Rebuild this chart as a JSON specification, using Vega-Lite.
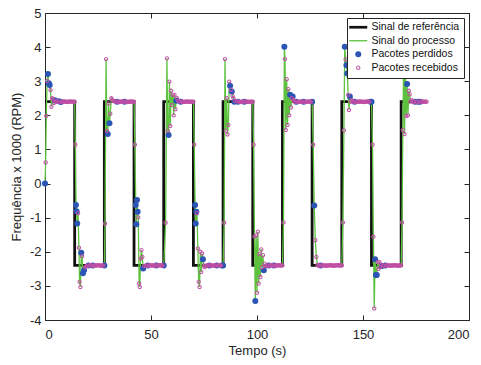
{
  "$schema": "https://vega.github.io/schema/vega-lite/v6.json",
  "width": 424,
  "height": 307,
  "autosize": {"type": "none"},
  "padding": {"left": 45, "top": 13, "right": 12, "bottom": 45},
  "background": "white",
  "config": {
    "font": "Liberation Sans",
    "view": {"stroke": "#262626", "strokeWidth": 1}
  },
  "datasets": {
    "ref": [
      {"t": 0, "r": 2.4}, {"t": 14, "r": -2.4}, {"t": 28, "r": 2.4}, {"t": 42, "r": -2.4},
      {"t": 56, "r": 2.4}, {"t": 70, "r": -2.4}, {"t": 84, "r": 2.4}, {"t": 98, "r": -2.4},
      {"t": 112, "r": 2.4}, {"t": 126, "r": -2.4}, {"t": 140, "r": 2.4}, {"t": 154, "r": -2.4},
      {"t": 168, "r": 2.4}, {"t": 180, "r": 2.4}
    ],
    "pts": [
      {"t":0,"v":0,"k":"c"},{"t":0.3,"v":0.62,"k":"d"},{"t":0.6,"v":1.98,"k":"d"},{"t":1.0,"v":3.01,"k":"d"},{"t":1.4,"v":3.21,"k":"c"},{"t":1.8,"v":2.94,"k":"c"},{"t":2.2,"v":2.89,"k":"c"},{"t":2.6,"v":2.74,"k":"d"},{"t":3.0,"v":2.25,"k":"d"},{"t":3.4,"v":2.5,"k":"d"},{"t":3.8,"v":2.47,"k":"d"},{"t":4.2,"v":2.36,"k":"d"},{"t":4.6,"v":2.44,"k":"c"},{"t":5.0,"v":2.4,"k":"d"},
      {"t":5.5,"v":2.42,"k":"d"},{"t":6.0,"v":2.4,"k":"d"},{"t":6.5,"v":2.41,"k":"c"},{"t":7.0,"v":2.4,"k":"d"},{"t":7.5,"v":2.39,"k":"c"},{"t":8.0,"v":2.4,"k":"d"},{"t":8.5,"v":2.4,"k":"d"},{"t":9.0,"v":2.41,"k":"d"},{"t":9.5,"v":2.4,"k":"d"},{"t":10.0,"v":2.4,"k":"d"},{"t":10.5,"v":2.39,"k":"d"},{"t":11.0,"v":2.4,"k":"d"},{"t":11.5,"v":2.4,"k":"d"},{"t":12.0,"v":2.41,"k":"d"},{"t":12.5,"v":2.4,"k":"d"},{"t":13.0,"v":2.4,"k":"d"},{"t":13.5,"v":2.4,"k":"d"},{"t":14.0,"v":2.4,"k":"d"},
      {"t":14.3,"v":1.14,"k":"d"},{"t":14.6,"v":-0.63,"k":"c"},{"t":14.9,"v":-0.81,"k":"c"},{"t":15.2,"v":-1.17,"k":"c"},{"t":15.6,"v":-0.87,"k":"d"},{"t":16.0,"v":-1.88,"k":"d"},{"t":16.3,"v":-2.88,"k":"d"},{"t":16.7,"v":-3.03,"k":"d"},{"t":17.1,"v":-2.03,"k":"c"},{"t":17.5,"v":-2.13,"k":"d"},{"t":17.9,"v":-2.63,"k":"c"},{"t":18.4,"v":-2.54,"k":"c"},{"t":18.9,"v":-2.45,"k":"d"},{"t":19.4,"v":-2.42,"k":"d"},
      {"t":20.0,"v":-2.41,"k":"d"},{"t":20.5,"v":-2.4,"k":"c"},{"t":21.0,"v":-2.4,"k":"d"},{"t":21.5,"v":-2.39,"k":"d"},{"t":22.0,"v":-2.4,"k":"d"},{"t":22.5,"v":-2.4,"k":"c"},{"t":23.0,"v":-2.41,"k":"d"},{"t":23.5,"v":-2.4,"k":"d"},{"t":24.0,"v":-2.4,"k":"d"},{"t":24.5,"v":-2.4,"k":"d"},{"t":25.0,"v":-2.39,"k":"d"},{"t":25.5,"v":-2.4,"k":"d"},{"t":26.0,"v":-2.4,"k":"d"},{"t":26.5,"v":-2.41,"k":"d"},{"t":27.0,"v":-2.4,"k":"d"},{"t":27.5,"v":-2.4,"k":"d"},{"t":28.0,"v":-2.4,"k":"c"},
      {"t":28.3,"v":-1.17,"k":"d"},{"t":28.8,"v":3.65,"k":"d"},{"t":29.2,"v":1.54,"k":"d"},{"t":29.6,"v":1.45,"k":"c"},{"t":30.0,"v":2.35,"k":"d"},{"t":30.4,"v":1.77,"k":"c"},{"t":30.8,"v":2.05,"k":"d"},{"t":31.3,"v":2.5,"k":"d"},{"t":31.8,"v":2.45,"k":"d"},{"t":32.3,"v":2.42,"k":"d"},
      {"t":33.0,"v":2.41,"k":"d"},{"t":33.5,"v":2.4,"k":"d"},{"t":34.0,"v":2.4,"k":"c"},{"t":34.5,"v":2.4,"k":"d"},{"t":35.0,"v":2.39,"k":"d"},{"t":35.5,"v":2.4,"k":"d"},{"t":36.0,"v":2.4,"k":"d"},{"t":36.5,"v":2.41,"k":"d"},{"t":37.0,"v":2.4,"k":"d"},{"t":37.5,"v":2.4,"k":"c"},{"t":38.0,"v":2.4,"k":"d"},{"t":38.5,"v":2.4,"k":"d"},{"t":39.0,"v":2.39,"k":"d"},{"t":39.5,"v":2.4,"k":"d"},{"t":40.0,"v":2.4,"k":"d"},{"t":40.5,"v":2.41,"k":"d"},{"t":41.0,"v":2.4,"k":"d"},{"t":41.5,"v":2.4,"k":"d"},{"t":42.0,"v":2.4,"k":"d"},
      {"t":42.4,"v":1.14,"k":"d"},{"t":42.8,"v":-0.63,"k":"c"},{"t":43.1,"v":-1.19,"k":"c"},{"t":43.4,"v":-0.48,"k":"c"},{"t":43.7,"v":-0.83,"k":"c"},{"t":44.0,"v":-0.99,"k":"d"},{"t":44.4,"v":-2.93,"k":"d"},{"t":44.7,"v":-3.03,"k":"d"},{"t":45.1,"v":-2.2,"k":"d"},{"t":45.5,"v":-1.95,"k":"d"},{"t":45.9,"v":-2.15,"k":"d"},{"t":46.3,"v":-2.49,"k":"c"},{"t":46.8,"v":-2.42,"k":"d"},
      {"t":47.5,"v":-2.4,"k":"d"},{"t":48.0,"v":-2.41,"k":"d"},{"t":48.5,"v":-2.4,"k":"c"},{"t":49.0,"v":-2.4,"k":"d"},{"t":49.5,"v":-2.39,"k":"d"},{"t":50.0,"v":-2.4,"k":"d"},{"t":50.5,"v":-2.4,"k":"d"},{"t":51.0,"v":-2.4,"k":"d"},{"t":51.5,"v":-2.41,"k":"d"},{"t":52.0,"v":-2.4,"k":"d"},{"t":52.5,"v":-2.4,"k":"c"},{"t":53.0,"v":-2.4,"k":"d"},{"t":53.5,"v":-2.4,"k":"d"},{"t":54.0,"v":-2.39,"k":"d"},{"t":54.5,"v":-2.4,"k":"d"},{"t":55.0,"v":-2.4,"k":"d"},{"t":55.5,"v":-2.4,"k":"d"},{"t":56.0,"v":-2.4,"k":"c"},
      {"t":56.9,"v":-1.15,"k":"d"},{"t":57.5,"v":3.67,"k":"d"},{"t":57.9,"v":1.55,"k":"d"},{"t":58.3,"v":1.42,"k":"c"},{"t":58.7,"v":2.99,"k":"d"},{"t":59.1,"v":1.69,"k":"d"},{"t":59.5,"v":2.72,"k":"d"},{"t":59.9,"v":2.3,"k":"d"},{"t":60.3,"v":2.6,"k":"d"},{"t":60.7,"v":2.0,"k":"d"},{"t":61.1,"v":2.6,"k":"d"},{"t":61.5,"v":2.18,"k":"d"},{"t":61.9,"v":2.43,"k":"c"},{"t":62.3,"v":2.5,"k":"d"},{"t":62.8,"v":2.42,"k":"d"},
      {"t":63.5,"v":2.41,"k":"d"},{"t":64.0,"v":2.4,"k":"c"},{"t":64.5,"v":2.4,"k":"d"},{"t":65.0,"v":2.4,"k":"d"},{"t":65.5,"v":2.39,"k":"d"},{"t":66.0,"v":2.4,"k":"d"},{"t":66.5,"v":2.4,"k":"d"},{"t":67.0,"v":2.41,"k":"d"},{"t":67.5,"v":2.4,"k":"d"},{"t":68.0,"v":2.4,"k":"d"},{"t":68.5,"v":2.4,"k":"d"},{"t":69.0,"v":2.4,"k":"d"},{"t":69.5,"v":2.4,"k":"d"},{"t":70.0,"v":2.4,"k":"d"},
      {"t":70.4,"v":1.14,"k":"d"},{"t":70.8,"v":-0.63,"k":"c"},{"t":71.1,"v":-1.17,"k":"c"},{"t":71.4,"v":-0.83,"k":"c"},{"t":71.7,"v":-0.87,"k":"d"},{"t":72.1,"v":-1.9,"k":"d"},{"t":72.5,"v":-2.88,"k":"d"},{"t":72.9,"v":-3.03,"k":"d"},{"t":73.3,"v":-2.0,"k":"d"},{"t":73.7,"v":-2.59,"k":"d"},{"t":74.1,"v":-2.05,"k":"d"},{"t":74.5,"v":-2.22,"k":"c"},{"t":74.9,"v":-2.4,"k":"d"},{"t":75.3,"v":-2.45,"k":"d"},
      {"t":76.0,"v":-2.41,"k":"d"},{"t":76.5,"v":-2.4,"k":"d"},{"t":77.0,"v":-2.4,"k":"d"},{"t":77.5,"v":-2.4,"k":"c"},{"t":78.0,"v":-2.39,"k":"d"},{"t":78.5,"v":-2.4,"k":"d"},{"t":79.0,"v":-2.4,"k":"d"},{"t":79.5,"v":-2.41,"k":"d"},{"t":80.0,"v":-2.4,"k":"d"},{"t":80.5,"v":-2.4,"k":"d"},{"t":81.0,"v":-2.4,"k":"c"},{"t":81.5,"v":-2.4,"k":"d"},{"t":82.0,"v":-2.39,"k":"d"},{"t":82.5,"v":-2.4,"k":"d"},{"t":83.0,"v":-2.4,"k":"d"},{"t":83.5,"v":-2.4,"k":"c"},{"t":84.0,"v":-2.4,"k":"c"},
      {"t":84.5,"v":-1.15,"k":"d"},{"t":84.9,"v":3.65,"k":"d"},{"t":85.3,"v":1.55,"k":"d"},{"t":85.7,"v":2.5,"k":"d"},{"t":86.1,"v":1.44,"k":"d"},{"t":86.5,"v":1.72,"k":"d"},{"t":86.9,"v":2.99,"k":"d"},{"t":87.3,"v":2.87,"k":"c"},{"t":87.7,"v":2.75,"k":"d"},{"t":88.1,"v":2.7,"k":"c"},{"t":88.5,"v":2.57,"k":"d"},{"t":88.9,"v":2.5,"k":"d"},{"t":89.3,"v":2.4,"k":"c"},{"t":89.7,"v":2.42,"k":"d"},
      {"t":90.5,"v":2.41,"k":"d"},{"t":91.0,"v":2.4,"k":"c"},{"t":91.5,"v":2.4,"k":"d"},{"t":92.0,"v":2.4,"k":"d"},{"t":92.5,"v":2.39,"k":"d"},{"t":93.0,"v":2.4,"k":"d"},{"t":93.5,"v":2.4,"k":"d"},{"t":94.0,"v":2.4,"k":"c"},{"t":94.5,"v":2.41,"k":"d"},{"t":95.0,"v":2.4,"k":"d"},{"t":95.5,"v":2.4,"k":"d"},{"t":96.0,"v":2.4,"k":"d"},{"t":96.5,"v":2.39,"k":"d"},{"t":97.0,"v":2.4,"k":"d"},{"t":97.5,"v":2.4,"k":"d"},{"t":98.0,"v":2.4,"k":"d"},
      {"t":98.4,"v":1.14,"k":"d"},{"t":98.8,"v":-1.55,"k":"d"},{"t":99.2,"v":-3.44,"k":"c"},{"t":99.6,"v":-1.52,"k":"d"},{"t":100.0,"v":-3.2,"k":"d"},{"t":100.4,"v":-1.41,"k":"d"},{"t":100.8,"v":-2.93,"k":"d"},{"t":101.2,"v":-2.06,"k":"d"},{"t":101.6,"v":-2.74,"k":"d"},{"t":102.0,"v":-1.93,"k":"d"},{"t":102.4,"v":-2.45,"k":"d"},{"t":102.8,"v":-2.1,"k":"d"},{"t":103.2,"v":-2.54,"k":"c"},{"t":103.6,"v":-2.35,"k":"d"},{"t":104.0,"v":-2.42,"k":"d"},
      {"t":104.5,"v":-2.4,"k":"d"},{"t":105.0,"v":-2.41,"k":"d"},{"t":105.5,"v":-2.4,"k":"c"},{"t":106.0,"v":-2.4,"k":"d"},{"t":106.5,"v":-2.39,"k":"d"},{"t":107.0,"v":-2.4,"k":"d"},{"t":107.5,"v":-2.4,"k":"d"},{"t":108.0,"v":-2.4,"k":"c"},{"t":108.5,"v":-2.41,"k":"d"},{"t":109.0,"v":-2.4,"k":"d"},{"t":109.5,"v":-2.4,"k":"d"},{"t":110.0,"v":-2.4,"k":"d"},{"t":110.5,"v":-2.39,"k":"d"},{"t":111.0,"v":-2.4,"k":"d"},{"t":111.5,"v":-2.4,"k":"d"},{"t":112.0,"v":-2.4,"k":"d"},
      {"t":112.5,"v":-1.14,"k":"d"},{"t":112.9,"v":4.01,"k":"c"},{"t":113.2,"v":3.65,"k":"d"},{"t":113.6,"v":1.57,"k":"d"},{"t":114.0,"v":3.06,"k":"d"},{"t":114.4,"v":1.72,"k":"d"},{"t":114.8,"v":2.77,"k":"d"},{"t":115.2,"v":2.0,"k":"d"},{"t":115.6,"v":2.6,"k":"c"},{"t":116.0,"v":2.23,"k":"d"},{"t":116.4,"v":2.5,"k":"d"},{"t":116.8,"v":2.55,"k":"c"},{"t":117.2,"v":2.45,"k":"d"},
      {"t":117.5,"v":2.41,"k":"d"},{"t":118.0,"v":2.4,"k":"d"},{"t":118.5,"v":2.4,"k":"c"},{"t":119.0,"v":2.4,"k":"d"},{"t":119.5,"v":2.39,"k":"d"},{"t":120.0,"v":2.4,"k":"d"},{"t":120.5,"v":2.4,"k":"d"},{"t":121.0,"v":2.41,"k":"d"},{"t":121.5,"v":2.4,"k":"d"},{"t":122.0,"v":2.4,"k":"c"},{"t":122.5,"v":2.4,"k":"d"},{"t":123.0,"v":2.39,"k":"d"},{"t":123.5,"v":2.4,"k":"d"},{"t":124.0,"v":2.4,"k":"d"},{"t":124.5,"v":2.41,"k":"d"},{"t":125.0,"v":2.4,"k":"d"},{"t":125.5,"v":2.4,"k":"d"},{"t":126.0,"v":2.4,"k":"c"},
      {"t":126.5,"v":1.14,"k":"d"},{"t":127.0,"v":-0.64,"k":"c"},{"t":127.5,"v":-1.66,"k":"d"},{"t":128.0,"v":-2.15,"k":"d"},{"t":128.5,"v":-2.38,"k":"d"},
      {"t":129.0,"v":-2.41,"k":"d"},{"t":129.5,"v":-2.4,"k":"d"},{"t":130.0,"v":-2.4,"k":"c"},{"t":130.5,"v":-2.4,"k":"d"},{"t":131.0,"v":-2.39,"k":"d"},{"t":131.5,"v":-2.4,"k":"d"},{"t":132.0,"v":-2.4,"k":"d"},{"t":132.5,"v":-2.41,"k":"d"},{"t":133.0,"v":-2.4,"k":"d"},{"t":133.5,"v":-2.4,"k":"d"},{"t":134.0,"v":-2.4,"k":"d"},{"t":134.5,"v":-2.39,"k":"d"},{"t":135.0,"v":-2.4,"k":"d"},{"t":135.5,"v":-2.4,"k":"d"},{"t":136.0,"v":-2.41,"k":"d"},{"t":136.5,"v":-2.4,"k":"d"},{"t":137.0,"v":-2.4,"k":"d"},{"t":137.5,"v":-2.4,"k":"d"},{"t":138.0,"v":-2.39,"k":"d"},{"t":138.5,"v":-2.4,"k":"d"},{"t":139.0,"v":-2.4,"k":"d"},{"t":139.5,"v":-2.4,"k":"d"},{"t":140.0,"v":-2.4,"k":"d"},
      {"t":140.5,"v":-1.14,"k":"d"},{"t":141.0,"v":1.56,"k":"d"},{"t":141.4,"v":4.01,"k":"c"},{"t":141.8,"v":3.64,"k":"d"},{"t":142.2,"v":3.47,"k":"c"},{"t":142.6,"v":3.23,"k":"c"},{"t":143.0,"v":2.6,"k":"d"},{"t":143.4,"v":2.16,"k":"d"},{"t":143.8,"v":2.55,"k":"c"},{"t":144.2,"v":2.4,"k":"d"},{"t":144.6,"v":2.45,"k":"d"},
      {"t":145.0,"v":2.41,"k":"d"},{"t":145.5,"v":2.4,"k":"d"},{"t":146.0,"v":2.4,"k":"c"},{"t":146.5,"v":2.4,"k":"d"},{"t":147.0,"v":2.39,"k":"d"},{"t":147.5,"v":2.4,"k":"d"},{"t":148.0,"v":2.4,"k":"d"},{"t":148.5,"v":2.41,"k":"d"},{"t":149.0,"v":2.4,"k":"d"},{"t":149.5,"v":2.4,"k":"d"},{"t":150.0,"v":2.4,"k":"d"},{"t":150.5,"v":2.39,"k":"d"},{"t":151.0,"v":2.4,"k":"d"},{"t":151.5,"v":2.4,"k":"d"},{"t":152.0,"v":2.41,"k":"d"},{"t":152.5,"v":2.4,"k":"d"},{"t":153.0,"v":2.4,"k":"d"},{"t":153.5,"v":2.4,"k":"c"},{"t":154.0,"v":2.4,"k":"c"},
      {"t":154.5,"v":1.14,"k":"d"},{"t":154.9,"v":-1.56,"k":"d"},{"t":155.3,"v":-3.66,"k":"d"},{"t":155.7,"v":-2.22,"k":"c"},{"t":156.1,"v":-2.68,"k":"c"},{"t":156.5,"v":-2.68,"k":"c"},{"t":156.9,"v":-2.3,"k":"d"},{"t":157.3,"v":-2.5,"k":"d"},{"t":157.7,"v":-2.3,"k":"d"},{"t":158.1,"v":-2.45,"k":"d"},{"t":158.5,"v":-2.38,"k":"d"},{"t":159.0,"v":-2.42,"k":"c"},
      {"t":159.5,"v":-2.4,"k":"d"},{"t":160.0,"v":-2.41,"k":"d"},{"t":160.5,"v":-2.4,"k":"c"},{"t":161.0,"v":-2.4,"k":"d"},{"t":161.5,"v":-2.39,"k":"d"},{"t":162.0,"v":-2.4,"k":"d"},{"t":162.5,"v":-2.4,"k":"d"},{"t":163.0,"v":-2.41,"k":"d"},{"t":163.5,"v":-2.4,"k":"d"},{"t":164.0,"v":-2.4,"k":"d"},{"t":164.5,"v":-2.4,"k":"d"},{"t":165.0,"v":-2.39,"k":"d"},{"t":165.5,"v":-2.4,"k":"d"},{"t":166.0,"v":-2.4,"k":"d"},{"t":166.5,"v":-2.41,"k":"d"},{"t":167.0,"v":-2.4,"k":"d"},{"t":167.5,"v":-2.4,"k":"d"},{"t":168.0,"v":-2.4,"k":"d"},
      {"t":168.4,"v":-1.14,"k":"d"},{"t":168.8,"v":1.57,"k":"d"},{"t":169.2,"v":3.7,"k":"d"},{"t":169.6,"v":1.45,"k":"d"},{"t":170.0,"v":3.4,"k":"c"},{"t":170.4,"v":1.98,"k":"d"},{"t":170.8,"v":2.92,"k":"c"},{"t":171.2,"v":2.0,"k":"d"},{"t":171.6,"v":2.72,"k":"d"},{"t":172.0,"v":2.62,"k":"d"},{"t":172.4,"v":2.4,"k":"d"},{"t":172.8,"v":2.45,"k":"d"},
      {"t":173.5,"v":2.41,"k":"d"},{"t":174.0,"v":2.4,"k":"d"},{"t":174.5,"v":2.4,"k":"c"},{"t":175.0,"v":2.4,"k":"d"},{"t":175.5,"v":2.39,"k":"d"},{"t":176.0,"v":2.4,"k":"c"},{"t":176.5,"v":2.4,"k":"d"},{"t":177.0,"v":2.4,"k":"c"},{"t":177.5,"v":2.41,"k":"d"},{"t":178.0,"v":2.4,"k":"d"},{"t":178.5,"v":2.4,"k":"d"},{"t":179.0,"v":2.4,"k":"d"},{"t":179.5,"v":2.4,"k":"d"},{"t":180.0,"v":2.4,"k":"d"}
    ]
  },
  "layer": [
    {
      "data": {"name": "ref"},
      "mark": {"type": "line", "interpolate": "step-after", "color": "#111111", "strokeWidth": 2.8},
      "encoding": {
        "x": {"field": "t", "type": "quantitative", "scale": {"domain": [0, 200], "nice": false, "zero": false},
              "axis": {"orient": "top", "values": [0, 50, 100, 150, 200], "labels": false, "title": null, "grid": false, "domain": false, "tickSize": -5, "tickColor": "#262626"}},
        "y": {"field": "r", "type": "quantitative", "scale": {"domain": [-4, 5], "nice": false, "zero": false},
              "axis": {"orient": "right", "values": [-4, -3, -2, -1, 0, 1, 2, 3, 4, 5], "labels": false, "title": null, "grid": false, "domain": false, "tickSize": -5, "tickColor": "#262626"}}
      }
    },
    {
      "data": {"name": "pts"},
      "mark": {"type": "line", "color": "#5cc23e", "strokeWidth": 1.3},
      "encoding": {
        "x": {"field": "t", "type": "quantitative", "scale": {"domain": [0, 200], "nice": false, "zero": false},
              "axis": {"orient": "bottom", "values": [0, 50, 100, 150, 200], "title": "Tempo (s)", "grid": false, "domain": false, "tickSize": -5, "tickColor": "#262626",
                       "labelFontSize": 13, "labelColor": "#262626", "labelPadding": 13, "titleFontSize": 13, "titleFontWeight": "normal", "titleColor": "#262626", "titlePadding": 3}},
        "y": {"field": "v", "type": "quantitative", "scale": {"domain": [-4, 5], "nice": false, "zero": false},
              "axis": {"orient": "left", "values": [-4, -3, -2, -1, 0, 1, 2, 3, 4, 5], "labelExpr": "'' + datum.value", "title": "Frequência x 1000 (RPM)", "grid": false, "domain": false, "tickSize": -5, "tickColor": "#262626",
                       "labelFontSize": 13, "labelColor": "#262626", "labelPadding": 9, "titleFontSize": 13, "titleFontWeight": "normal", "titleColor": "#262626", "titlePadding": 6}}
      }
    },
    {
      "data": {"name": "pts"},
      "mark": {"type": "point", "filled": true, "opacity": 1, "size": 36},
      "encoding": {
        "x": {"field": "t", "type": "quantitative", "axis": null},
        "y": {"field": "v", "type": "quantitative", "axis": null},
        "order": {"field": "k", "sort": "ascending"},
        "color": {
          "field": "k", "type": "nominal",
          "scale": {"domain": ["a", "b", "c", "d"], "range": ["#111111", "#5cc23e", "#2b55b5", "#c24ea6"]},
          "legend": {"title": null, "orient": "top-right", "offset": 5, "fillColor": "white", "strokeColor": "#262626", "padding": 4,
                     "labelFontSize": 10.5, "labelColor": "#111111", "symbolSize": 36, "symbolStrokeWidth": 0, "symbolOffset": 2, "labelOffset": 8, "rowPadding": 2.5,
                     "labelExpr": "{'a': 'Sinal de referência', 'b': 'Sinal do processo', 'c': 'Pacotes perdidos', 'd': 'Pacotes recebidos'}[datum.label]"}
        },
        "shape": {
          "field": "k", "type": "nominal",
          "scale": {"domain": ["a", "b", "c", "d"], "range": ["M-3,-0.45H3V0.45H-3Z", "M-3,-0.22H3V0.22H-3Z", "circle", "M-0.72,0A0.72,0.72,0,1,0,0.72,0A0.72,0.72,0,1,0,-0.72,0ZM-0.38,0A0.38,0.38,0,1,1,0.38,0A0.38,0.38,0,1,1,-0.38,0Z"]},
          "legend": {"title": null, "orient": "top-right", "offset": 5, "fillColor": "white", "strokeColor": "#262626", "padding": 4,
                     "labelFontSize": 10.5, "labelColor": "#111111", "symbolSize": 36, "symbolStrokeWidth": 0, "symbolOffset": 2, "labelOffset": 8, "rowPadding": 2.5,
                     "labelExpr": "{'a': 'Sinal de referência', 'b': 'Sinal do processo', 'c': 'Pacotes perdidos', 'd': 'Pacotes recebidos'}[datum.label]"}
        }
      }
    }
  ],
  "resolve": {"axis": {"x": "independent", "y": "independent"}}
}
